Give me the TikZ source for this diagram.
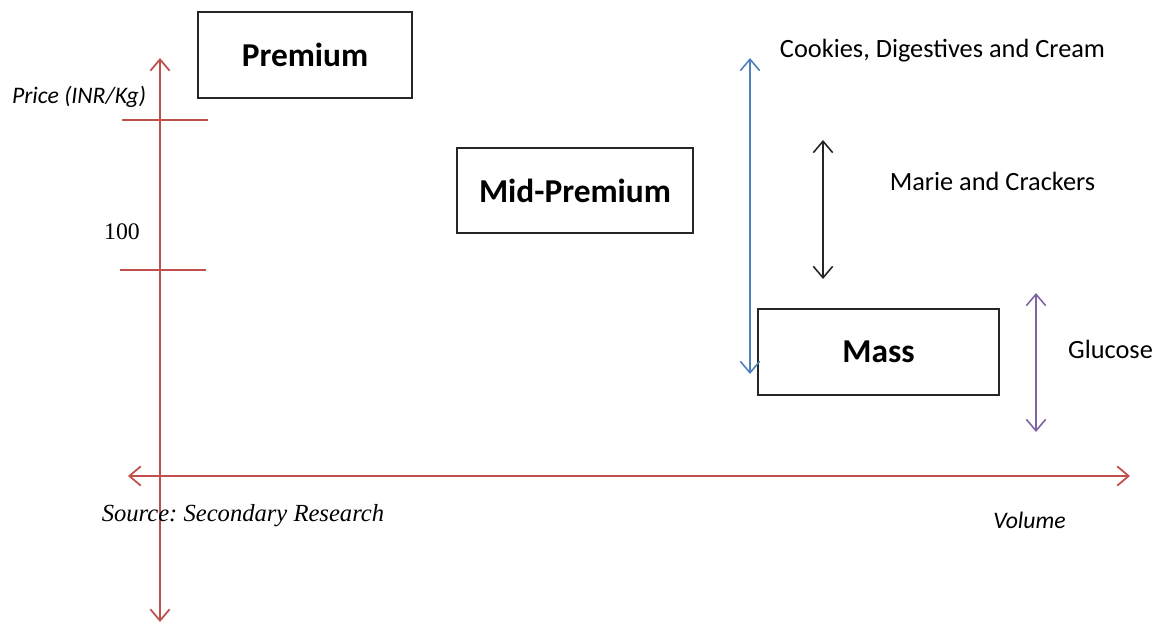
\documentclass[tikz,border=0pt]{standalone}
\usepackage{fontspec}
\setmainfont{Carlito}
\newfontfamily\serifface{Liberation Serif}
\usetikzlibrary{arrows.meta, positioning}
\usepackage{xcolor}
\definecolor{axisred}{HTML}{C0504D}
\definecolor{rangeblue}{HTML}{4F81BD}
\definecolor{rangepurple}{HTML}{8064A2}
\frenchspacing

\begin{document}
\begin{tikzpicture}[
        x=0.02cm, y=-0.02cm,
        % Box and label styles
        segbox/.style={rectangle, draw=black!85, line width=1pt, fill=white, minimum height=1.72cm, font=\fontsize{19}{22}\selectfont\bfseries, inner sep=0pt},
        catlabel/.style={font=\fontsize{15}{18}\selectfont, inner sep=0pt},
        axislabel/.style={font=\fontsize{13.5}{16}\selectfont\itshape, inner sep=0pt},
        axisline/.style={draw=axisred, line width=1pt, {Straight Barb[length=6.5pt, width=11pt]}-{Straight Barb[length=6.5pt, width=11pt]}},
        tickline/.style={draw=axisred, line width=1pt},
        rangearrow/.style={line width=0.9pt, {Straight Barb[length=6.5pt, width=11pt]}-{Straight Barb[length=6.5pt, width=11pt]}}
    ]
    \useasboundingbox (0,0) rectangle (1160,624);

    % --- AXES ---
    \coordinate (ytop) at (160,58);
    \coordinate (ybot) at (160,622);
    \coordinate (xleft) at (128,476);
    \coordinate (xright) at (1130,476);
    \draw [axisline] (ytop) -- (ybot);
    \draw [axisline] (xleft) -- (xright);

    % --- TICKS ---
    \coordinate (tickA1) at (122,120);
    \coordinate (tickA2) at (208,120);
    \coordinate (tickB1) at (120,270);
    \coordinate (tickB2) at (206,270);
    \draw [tickline] (tickA1) -- (tickA2);
    \draw [tickline] (tickB1) -- (tickB2);

    % --- AXIS LABELS ---
    \node (price) [axislabel] at (79,97) {Price (INR/Kg)};
    \node (hundred) [font=\serifface\fontsize{13.5}{16}\selectfont, inner sep=0pt] at (122,232) {100};
    \node (volume) [axislabel] at (1029.5,520) {Volume};
    \node (source) [font=\serifface\fontsize{14}{17}\selectfont\itshape, inner sep=0pt] at (243,516) {Source: Secondary Research};

    % --- SEGMENT BOXES ---
    \node (premium) [segbox, minimum width=4.28cm] at (305,55) {Premium};
    \node (midprem) [segbox, minimum width=4.72cm, minimum height=1.7cm] at (575,190.5) {Mid-Premium};
    \node (mass) [segbox, minimum width=4.82cm] at (878.5,352) {Mass};

    % --- CATEGORY RANGES ---
    \coordinate (cookTop) at (750,58);
    \coordinate (cookBot) at (750,374);
    \coordinate (marieTop) at (823,140);
    \coordinate (marieBot) at (823,279);
    \coordinate (glucTop) at (1036,293);
    \coordinate (glucBot) at (1036,432);
    \draw [rangearrow, rangeblue] (cookTop) -- (cookBot);
    \draw [rangearrow, black!85] (marieTop) -- (marieBot);
    \draw [rangearrow, rangepurple] (glucTop) -- (glucBot);

    \node (cookies) [catlabel] at (942.5,51) {Cookies, Digestives and Cream};
    \node (marie) [catlabel] at (992.5,181) {Marie and Crackers};
    \node (glucose) [catlabel] at (1110.5,349) {Glucose};

    \end{tikzpicture}
\end{document}
